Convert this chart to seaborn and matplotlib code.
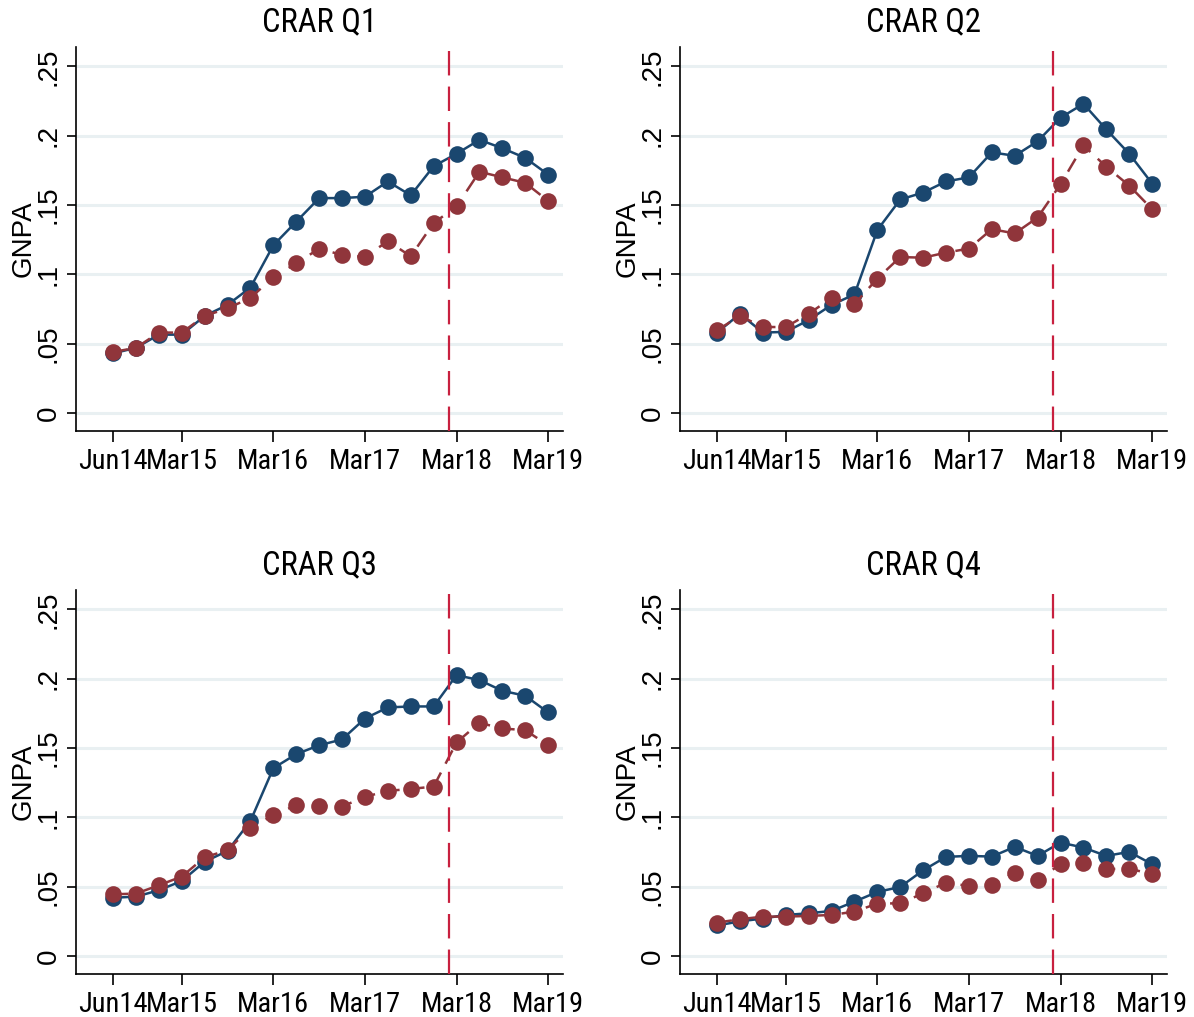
import matplotlib
matplotlib.use("Agg")
import matplotlib.pyplot as plt
from matplotlib import font_manager
from matplotlib.font_manager import FontProperties
import seaborn as sns
import pandas as pd
import numpy as np

# ---------------- data ----------------
quarters = ["Jun14", "Sep14", "Dec14", "Mar15", "Jun15", "Sep15", "Dec15", "Mar16",
            "Jun16", "Sep16", "Dec16", "Mar17", "Jun17", "Sep17", "Dec17", "Mar18",
            "Jun18", "Sep18", "Dec18", "Mar19"]
tick_labels = ["Jun14", "Mar15", "Mar16", "Mar17", "Mar18", "Mar19"]
titles = ["CRAR Q1", "CRAR Q2", "CRAR Q3", "CRAR Q4"]
ytick_vals = [0, 0.05, 0.1, 0.15, 0.2, 0.25]
ytick_text = ["0", ".05", ".1", ".15", ".2", ".25"]
event_position = 14.67  # Feb 2018, between Dec17 and Mar18

q1_blue = [0.043, 0.047, 0.0565, 0.0565, 0.070, 0.078, 0.0905, 0.121, 0.138, 0.155,
           0.155, 0.156, 0.167, 0.157, 0.178, 0.187, 0.197, 0.191, 0.184, 0.172]
q1_red = [0.044, 0.047, 0.058, 0.058, 0.070, 0.0755, 0.083, 0.098, 0.108, 0.1185,
          0.114, 0.1125, 0.124, 0.113, 0.137, 0.149, 0.174, 0.170, 0.166, 0.153]
q2_blue = [0.058, 0.0715, 0.058, 0.0585, 0.067, 0.078, 0.0855, 0.132, 0.154, 0.159,
           0.167, 0.170, 0.188, 0.1855, 0.196, 0.213, 0.223, 0.2045, 0.187, 0.1655]
q2_red = [0.0597, 0.070, 0.062, 0.062, 0.0715, 0.083, 0.0785, 0.097, 0.1125, 0.112,
          0.1157, 0.1186, 0.1326, 0.1295, 0.141, 0.165, 0.193, 0.1776, 0.164, 0.147]
q3_blue = [0.042, 0.0428, 0.0474, 0.0541, 0.068, 0.0758, 0.0974, 0.1355, 0.1456, 0.152,
           0.1562, 0.1713, 0.1793, 0.180, 0.180, 0.2026, 0.199, 0.1913, 0.1877, 0.1757]
q3_red = [0.0445, 0.045, 0.051, 0.0573, 0.0712, 0.0763, 0.0926, 0.1015, 0.1088, 0.1083,
          0.1078, 0.1148, 0.1191, 0.1205, 0.1222, 0.154, 0.1682, 0.1641, 0.1629, 0.152]
q4_blue = [0.022, 0.025, 0.027, 0.0296, 0.0308, 0.0325, 0.0392, 0.0462, 0.0498, 0.0618,
           0.0715, 0.0722, 0.0717, 0.0787, 0.0722, 0.0818, 0.0782, 0.0722, 0.0751, 0.0662]
q4_red = [0.0241, 0.0265, 0.0284, 0.0284, 0.0289, 0.0296, 0.032, 0.0378, 0.038, 0.0452,
          0.0529, 0.0505, 0.051, 0.0602, 0.0549, 0.0662, 0.0669, 0.0626, 0.063, 0.059]

blue_series = [q1_blue, q2_blue, q3_blue, q4_blue]
red_series = [q1_red, q2_red, q3_red, q4_red]

# ---------------- style ----------------
sns.set_theme(style="white")
plt.rcParams["font.family"] = ["Liberation Sans", "DejaVu Sans"]
for key in ["text.color", "axes.labelcolor", "xtick.color", "ytick.color"]:
    plt.rcParams[key] = "black"


def find_narrow_font():
    entries = font_manager.fontManager.ttflist
    prefs = ["liberation sans narrow", "arial narrow", "roboto condensed",
             "open sans condensed", "noto sans condensed", "dejavu sans condensed"]
    for p in prefs:
        for f in entries:
            fn = f.fname.lower().replace("-", " ").replace("_", " ")
            nm = f.name.lower()
            if (p in nm or p.replace(" ", "") in fn.replace(" ", "")) and "bold" not in fn \
                    and "italic" not in fn and "oblique" not in fn and "light" not in fn:
                return f.fname
    for f in entries:
        fn = f.fname.lower()
        if ("condensed" in fn or "narrow" in fn or f.stretch == "condensed") and \
                "bold" not in fn and "italic" not in fn and "oblique" not in fn:
            return f.fname
    return None


narrow_path = find_narrow_font()
if narrow_path:
    tick_fp = FontProperties(fname=narrow_path, size=20.5)
    title_fp = FontProperties(fname=narrow_path, size=23.5)
else:
    tick_fp = FontProperties(family=["Liberation Sans", "DejaVu Sans"], size=16.5)
    title_fp = FontProperties(family=["Liberation Sans", "DejaVu Sans"], size=20)

BLUE = "#1a476f"
RED = "#90353b"
VLINE = "#c8203f"
GRID = "#e9f0f2"

fig = plt.figure(figsize=(11.94, 10.17), dpi=100)
W, H = 1194, 1017
ax_w = 487 / W
ax_h = 384 / H
positions = [(76, 47), (680, 47), (76, 590), (680, 590)]

x_idx = np.arange(len(quarters))
tick_pos = [quarters.index(t) for t in tick_labels]

for i in range(4):
    lx, ty = positions[i]
    ax = fig.add_axes([lx / W, 1 - (ty + 384) / H, ax_w, ax_h])
    df = pd.DataFrame({"x": x_idx, "blue": blue_series[i], "red": red_series[i]})

    for yv in ytick_vals:
        ax.axhline(yv, color=GRID, lw=2.2, zorder=0)

    sns.lineplot(data=df, x="x", y="blue", ax=ax, color=BLUE, lw=1.8,
                 marker="o", markersize=12, markeredgewidth=0, zorder=3)
    sns.lineplot(data=df, x="x", y="red", ax=ax, color=RED, lw=1.8,
                 linestyle=(0, (6, 4)), marker="o", markersize=12,
                 markeredgewidth=0, zorder=4)

    ax.axvline(event_position, color=VLINE, lw=1.6, linestyle=(0, (11, 5)), zorder=5)

    ax.set_xlim(-1.62, 19.65)
    ax.set_ylim(-0.013, 0.264)
    ax.set_xticks(tick_pos)
    ax.set_xticklabels(tick_labels, fontproperties=tick_fp)
    ax.set_yticks(ytick_vals)
    ax.set_yticklabels(ytick_text, fontsize=20, rotation=90, va="center")
    ax.set_xlabel("")
    ax.set_ylabel("GNPA", fontsize=20, labelpad=-1)
    ax.set_title(titles[i], fontproperties=title_fp, pad=11)

    ax.grid(False)
    for s in ["top", "right"]:
        ax.spines[s].set_visible(False)
    for s in ["left", "bottom"]:
        ax.spines[s].set_color("black")
        ax.spines[s].set_linewidth(1.2)
    ax.tick_params(axis="x", length=8, width=1.2, color="black", pad=4, bottom=True)
    ax.tick_params(axis="y", length=6.5, width=1.2, color="black", pad=4, left=True)
    if ax.get_legend() is not None:
        ax.get_legend().remove()

fig.savefig("out.png", dpi=100)
